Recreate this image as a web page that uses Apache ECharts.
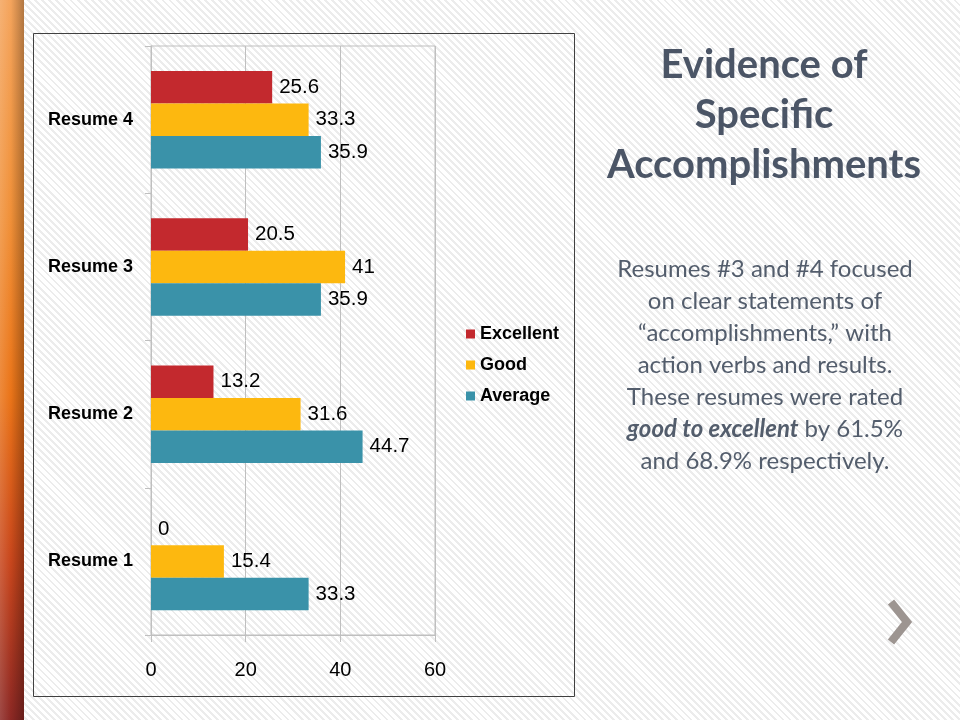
<!DOCTYPE html>
<html>
<head>
<meta charset="utf-8">
<title>Evidence of Specific Accomplishments</title>
<script src="https://cdn.jsdelivr.net/npm/echarts@6/dist/echarts.min.js"></script>
<style>
  html, body { margin: 0; padding: 0; }
  body {
    width: 960px; height: 720px; overflow: hidden; position: relative;
    background: repeating-linear-gradient(45deg, #ffffff 0px, #ffffff 3px, #ececec 3px, #ececec 5px);
  }
  #strip {
    position: absolute; left: 0; top: 0; width: 24px; height: 720px;
    background:
      linear-gradient(90deg, rgba(255,255,255,0.15) 0%, rgba(0,0,0,0) 45%, rgba(0,0,0,0.28) 100%),
      linear-gradient(180deg, #f4a45c 0%, #f09038 30%, #ea7418 55%, #c8461c 78%, #8c2824 100%);
  }
  #chart { position: absolute; left: 0; top: 0; width: 960px; height: 720px; }
</style>
</head>
<body>
<div id="strip"></div>
<div id="chart"></div>
<script>
var categories = ['Resume 1', 'Resume 2', 'Resume 3', 'Resume 4'];
var excellent = [0, 13.2, 20.5, 25.6];
var good = [15.4, 31.6, 41, 33.3];
var average = [33.3, 44.7, 35.9, 35.9];
var seriesNames = ['Excellent', 'Good', 'Average'];
var xTicks = { min: 0, max: 60, interval: 20 };

var ink = '#000000';
var rule = '#bfbfbf';
var slate = '#4b5566';
var arial = 'Liberation Sans, Arial, sans-serif';
var calibri = 'Lato, "Open Sans", sans-serif';

var chart = echarts.init(document.getElementById('chart'), null, { renderer: 'canvas' });

function barSeries(name, data, color) {
  return {
    name: name,
    type: 'bar',
    data: data,
    barWidth: 32.5,
    barGap: '0%',
    itemStyle: { color: color },
    label: {
      show: true,
      position: 'right',
      distance: 7,
      color: ink,
      fontSize: 20.5,
      fontFamily: arial
    }
  };
}

chart.setOption({
  animation: false,
  backgroundColor: 'transparent',
  legend: {
    orient: 'vertical',
    left: 461,
    top: 319,
    icon: 'rect',
    itemWidth: 9,
    itemHeight: 9,
    itemGap: 11,
    data: seriesNames,
    textStyle: { color: ink, fontSize: 18, fontWeight: 'bold', lineHeight: 20, fontFamily: arial }
  },
  grid: {
    left: 151, right: 525, top: 46, bottom: 85,
    show: true, borderColor: rule, borderWidth: 1, backgroundColor: 'transparent'
  },
  xAxis: {
    type: 'value',
    min: xTicks.min,
    max: xTicks.max,
    interval: xTicks.interval,
    axisLine: { show: true, lineStyle: { color: rule } },
    axisTick: { show: true, length: 7, lineStyle: { color: rule } },
    splitLine: { show: true, lineStyle: { color: rule } },
    axisLabel: { color: ink, fontSize: 20, margin: 25, fontFamily: arial }
  },
  yAxis: {
    type: 'category',
    data: categories,
    axisLine: { show: true, lineStyle: { color: rule } },
    axisTick: { show: true, length: 6, lineStyle: { color: rule } },
    axisLabel: { color: ink, fontSize: 18, fontWeight: 'bold', margin: 18, fontFamily: arial }
  },
  series: [
    barSeries('Excellent', excellent, '#c3292e'),
    barSeries('Good', good, '#fdb80f'),
    barSeries('Average', average, '#3a92a9')
  ],
  graphic: [
    {
      type: 'rect',
      shape: { x: 33.5, y: 33.5, width: 541, height: 663 },
      style: { fill: 'none', stroke: '#404040', lineWidth: 1 },
      silent: true
    },
    {
      type: 'text',
      x: 764, y: 40,
      style: {
        text: 'Evidence of\nSpecific\nAccomplishments',
        textAlign: 'center',
        fill: slate,
        font: 'bold 40px ' + calibri,
        lineHeight: 50
      }
    },
    {
      type: 'text',
      x: 765, y: 253,
      style: {
        text: 'Resumes #3 and #4 focused\non clear statements of\n\u201Caccomplishments,\u201D with\naction verbs and results.\nThese resumes were rated\n{bi|good to excellent} by 61.5%\nand 68.9% respectively.',
        textAlign: 'center',
        fill: '#535d6c',
        font: '24px ' + calibri,
        lineHeight: 32,
        rich: {
          bi: {
            fontFamily: calibri,
            fontSize: 24,
            fontWeight: 'bold',
            fontStyle: 'italic',
            fill: '#535d6c',
            lineHeight: 32
          }
        }
      }
    },
    {
      type: 'polyline',
      shape: { points: [[891, 602], [907, 622], [891, 642]] },
      style: { stroke: '#9d9591', lineWidth: 8, fill: 'none', lineJoin: 'miter' },
      silent: true
    }
  ]
});

window.addEventListener('resize', function () { chart.resize(); });
</script>
</body>
</html>
